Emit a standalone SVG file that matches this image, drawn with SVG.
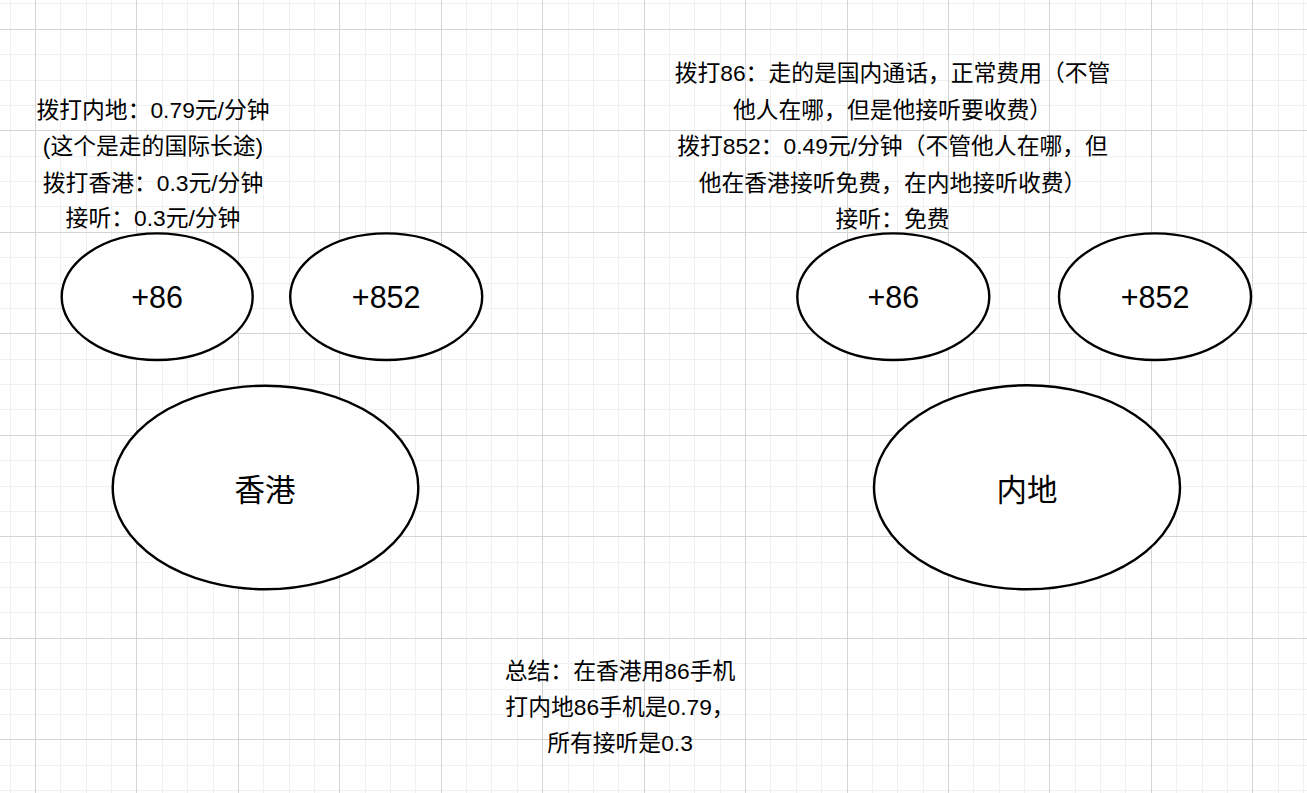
<svg xmlns="http://www.w3.org/2000/svg" width="1307" height="793" viewBox="0 0 1307 793">
<style>
.minor{stroke:#f0f0f0;stroke-width:1;fill:none}
.major{stroke:#d4d4d4;stroke-width:1;fill:none}
.node{fill:#ffffff;stroke:#000000;stroke-width:2.4}
.lbl{font-family:"Liberation Sans","Noto Sans CJK SC",sans-serif;font-size:30.5px;fill:#000000;text-anchor:middle}
.txt{font-family:"Liberation Sans","Noto Sans CJK SC",sans-serif;font-size:22.8px;fill:#000000;text-anchor:middle}
</style>
<rect x="0" y="0" width="1307" height="793" fill="#ffffff"/>
<g id="grid">
<path class="minor" d="M10.5 0V793M60.5 0V793M86.5 0V793M111.5 0V793M162.5 0V793M187.5 0V793M213.5 0V793M263.5 0V793M289.5 0V793M314.5 0V793M365.5 0V793M390.5 0V793M415.5 0V793M466.5 0V793M491.5 0V793M517.5 0V793M568.5 0V793M593.5 0V793M618.5 0V793M669.5 0V793M694.5 0V793M720.5 0V793M770.5 0V793M796.5 0V793M821.5 0V793M872.5 0V793M897.5 0V793M923.5 0V793M973.5 0V793M999.5 0V793M1024.5 0V793M1075.5 0V793M1100.5 0V793M1125.5 0V793M1176.5 0V793M1202.5 0V793M1227.5 0V793M1278.5 0V793M1303.5 0V793
M0 3.5H1307M0 54.5H1307M0 80.5H1307M0 105.5H1307M0 156.5H1307M0 181.5H1307M0 206.5H1307M0 257.5H1307M0 283.5H1307M0 308.5H1307M0 359.5H1307M0 384.5H1307M0 409.5H1307M0 460.5H1307M0 486.5H1307M0 511.5H1307M0 562.5H1307M0 587.5H1307M0 612.5H1307M0 663.5H1307M0 689.5H1307M0 714.5H1307M0 765.5H1307M0 790.5H1307"/>
<path class="major" d="M35.5 0V793M136.5 0V793M238.5 0V793M339.5 0V793M441.5 0V793M542.5 0V793M644.5 0V793M745.5 0V793M847.5 0V793M948.5 0V793M1049.5 0V793M1151.5 0V793M1252.5 0V793
M0 29.5H1307M0 130.5H1307M0 232.5H1307M0 333.5H1307M0 435.5H1307M0 536.5H1307M0 638.5H1307M0 739.5H1307"/>
</g>
<g id="connectors"></g>
<g id="hk-text">
<text class="txt" x="153" y="117.5">拨打内地：0.79元/分钟</text>
<text class="txt" x="153" y="154">(这个是走的国际长途)</text>
<text class="txt" x="153" y="190.5">拨打香港：0.3元/分钟</text>
<text class="txt" x="153" y="226">接听：0.3元/分钟</text>
</g>
<g id="cn-text">
<text class="txt" x="892.5" y="81.3">拨打86：走的是国内通话，正常费用（不管</text>
<text class="txt" x="892.5" y="117.7">他人在哪，但是他接听要收费）</text>
<text class="txt" x="892.5" y="154.1">拨打852：0.49元/分钟（不管他人在哪，但</text>
<text class="txt" x="892.5" y="190.5">他在香港接听免费，在内地接听收费）</text>
<text class="txt" x="892.5" y="226.9">接听：免费</text>
</g>
<g id="hk-86">
<ellipse class="node" cx="157.2" cy="296.7" rx="95.5" ry="63.3"/>
<text class="lbl" x="157.2" y="308.3">+86</text>
</g>
<g id="hk-852">
<ellipse class="node" cx="386.2" cy="296.7" rx="96" ry="63.3"/>
<text class="lbl" x="386.2" y="308.3">+852</text>
</g>
<g id="hk">
<ellipse class="node" cx="265.5" cy="487.5" rx="152.8" ry="101.8"/>
<text class="lbl" x="265" y="500.7">香港</text>
</g>
<g id="cn-86">
<ellipse class="node" cx="893.3" cy="296.7" rx="96" ry="63.3"/>
<text class="lbl" x="893.3" y="308.3">+86</text>
</g>
<g id="cn-852">
<ellipse class="node" cx="1155" cy="296.7" rx="96" ry="63.3"/>
<text class="lbl" x="1155" y="308.3">+852</text>
</g>
<g id="cn">
<ellipse class="node" cx="1027" cy="487.3" rx="153" ry="102"/>
<text class="lbl" x="1027" y="501">内地</text>
</g>
<g id="summary">
<text class="txt" x="620" y="678.8">总结：在香港用86手机</text>
<text class="txt" x="620" y="714.8">打内地86手机是0.79，</text>
<text class="txt" x="620" y="750.8">所有接听是0.3</text>
</g>
</svg>
